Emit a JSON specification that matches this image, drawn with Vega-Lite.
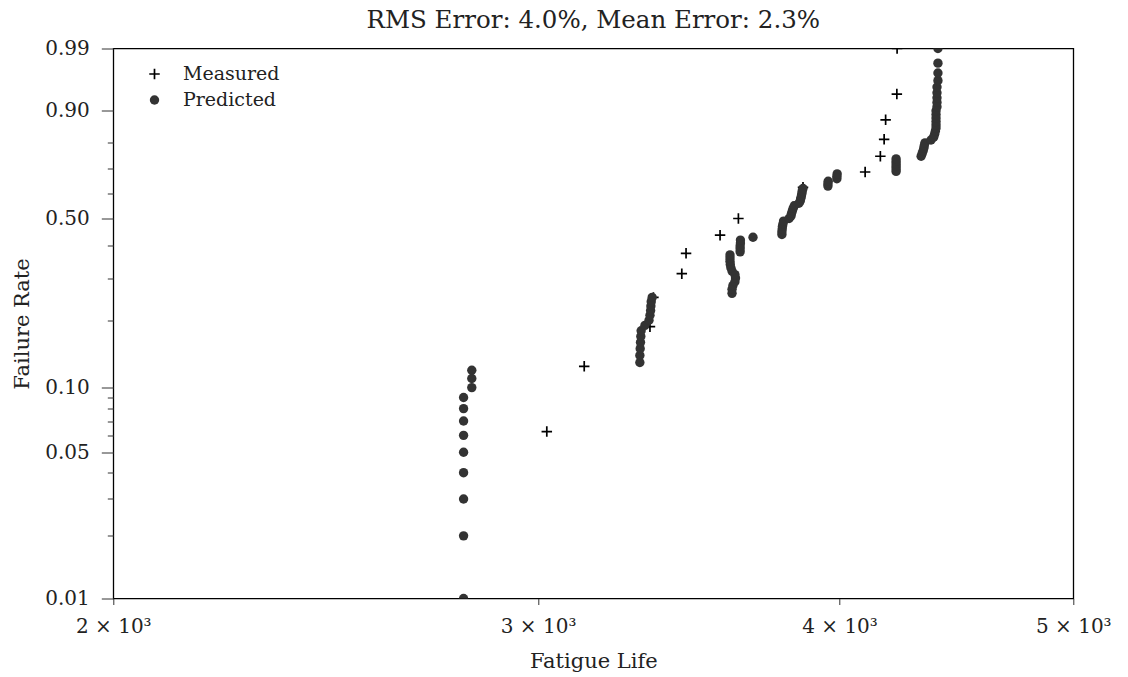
{
  "$schema": "https://vega.github.io/schema/vega-lite/v6.json",
  "width": 960,
  "height": 550,
  "autosize": {"type": "none"},
  "padding": {"left": 113.3, "top": 48.5, "right": 54.7, "bottom": 78.5},
  "background": "white",
  "title": {
    "text": "RMS Error: 4.0%, Mean Error: 2.3%",
    "font": "DejaVu Serif",
    "fontSize": 24.5,
    "fontWeight": "normal",
    "color": "#222222",
    "anchor": "middle",
    "baseline": "alphabetic",
    "offset": -14
  },
  "data": {
    "values": [
      {"series": "Measured", "life": 3025, "rate": 0.0625},
      {"series": "Measured", "life": 3135, "rate": 0.125},
      {"series": "Measured", "life": 3338, "rate": 0.1875},
      {"series": "Measured", "life": 3349, "rate": 0.25},
      {"series": "Measured", "life": 3441, "rate": 0.3125},
      {"series": "Measured", "life": 3455, "rate": 0.375},
      {"series": "Measured", "life": 3569, "rate": 0.4375},
      {"series": "Measured", "life": 3632, "rate": 0.5},
      {"series": "Measured", "life": 3841, "rate": 0.5625},
      {"series": "Measured", "life": 3863, "rate": 0.625},
      {"series": "Measured", "life": 4099, "rate": 0.6875},
      {"series": "Measured", "life": 4159, "rate": 0.75},
      {"series": "Measured", "life": 4174, "rate": 0.8125},
      {"series": "Measured", "life": 4180, "rate": 0.875},
      {"series": "Measured", "life": 4225, "rate": 0.9375},
      {"series": "Measured", "life": 4226, "rate": 0.99},
      {"series": "Predicted", "life": 2794, "rate": 0.01},
      {"series": "Predicted", "life": 2794, "rate": 0.02},
      {"series": "Predicted", "life": 2794, "rate": 0.03},
      {"series": "Predicted", "life": 2794, "rate": 0.04},
      {"series": "Predicted", "life": 2794, "rate": 0.05},
      {"series": "Predicted", "life": 2794, "rate": 0.06},
      {"series": "Predicted", "life": 2794, "rate": 0.07},
      {"series": "Predicted", "life": 2794, "rate": 0.08},
      {"series": "Predicted", "life": 2794, "rate": 0.09},
      {"series": "Predicted", "life": 2816, "rate": 0.10},
      {"series": "Predicted", "life": 2816, "rate": 0.11},
      {"series": "Predicted", "life": 2816, "rate": 0.12},
      {"series": "Predicted", "life": 3306, "rate": 0.13},
      {"series": "Predicted", "life": 3306, "rate": 0.14},
      {"series": "Predicted", "life": 3307, "rate": 0.15},
      {"series": "Predicted", "life": 3308, "rate": 0.16},
      {"series": "Predicted", "life": 3309, "rate": 0.17},
      {"series": "Predicted", "life": 3310, "rate": 0.18},
      {"series": "Predicted", "life": 3322, "rate": 0.19},
      {"series": "Predicted", "life": 3335, "rate": 0.20},
      {"series": "Predicted", "life": 3338, "rate": 0.21},
      {"series": "Predicted", "life": 3340, "rate": 0.22},
      {"series": "Predicted", "life": 3341, "rate": 0.23},
      {"series": "Predicted", "life": 3342, "rate": 0.24},
      {"series": "Predicted", "life": 3345, "rate": 0.25},
      {"series": "Predicted", "life": 3610, "rate": 0.26},
      {"series": "Predicted", "life": 3610, "rate": 0.27},
      {"series": "Predicted", "life": 3613, "rate": 0.28},
      {"series": "Predicted", "life": 3620, "rate": 0.29},
      {"series": "Predicted", "life": 3622, "rate": 0.30},
      {"series": "Predicted", "life": 3620, "rate": 0.31},
      {"series": "Predicted", "life": 3610, "rate": 0.32},
      {"series": "Predicted", "life": 3606, "rate": 0.33},
      {"series": "Predicted", "life": 3604, "rate": 0.34},
      {"series": "Predicted", "life": 3603, "rate": 0.35},
      {"series": "Predicted", "life": 3603, "rate": 0.36},
      {"series": "Predicted", "life": 3603, "rate": 0.37},
      {"series": "Predicted", "life": 3638, "rate": 0.38},
      {"series": "Predicted", "life": 3638, "rate": 0.39},
      {"series": "Predicted", "life": 3638, "rate": 0.40},
      {"series": "Predicted", "life": 3639, "rate": 0.41},
      {"series": "Predicted", "life": 3639, "rate": 0.42},
      {"series": "Predicted", "life": 3683, "rate": 0.43},
      {"series": "Predicted", "life": 3786, "rate": 0.44},
      {"series": "Predicted", "life": 3786, "rate": 0.45},
      {"series": "Predicted", "life": 3787, "rate": 0.46},
      {"series": "Predicted", "life": 3788, "rate": 0.47},
      {"series": "Predicted", "life": 3790, "rate": 0.48},
      {"series": "Predicted", "life": 3792, "rate": 0.49},
      {"series": "Predicted", "life": 3812, "rate": 0.50},
      {"series": "Predicted", "life": 3819, "rate": 0.51},
      {"series": "Predicted", "life": 3821, "rate": 0.52},
      {"series": "Predicted", "life": 3824, "rate": 0.53},
      {"series": "Predicted", "life": 3827, "rate": 0.54},
      {"series": "Predicted", "life": 3831, "rate": 0.55},
      {"series": "Predicted", "life": 3848, "rate": 0.56},
      {"series": "Predicted", "life": 3853, "rate": 0.57},
      {"series": "Predicted", "life": 3855, "rate": 0.58},
      {"series": "Predicted", "life": 3857, "rate": 0.59},
      {"series": "Predicted", "life": 3859, "rate": 0.60},
      {"series": "Predicted", "life": 3860, "rate": 0.61},
      {"series": "Predicted", "life": 3863, "rate": 0.62},
      {"series": "Predicted", "life": 3956, "rate": 0.63},
      {"series": "Predicted", "life": 3956, "rate": 0.64},
      {"series": "Predicted", "life": 3957, "rate": 0.65},
      {"series": "Predicted", "life": 3990, "rate": 0.66},
      {"series": "Predicted", "life": 3990, "rate": 0.67},
      {"series": "Predicted", "life": 3991, "rate": 0.68},
      {"series": "Predicted", "life": 4222, "rate": 0.69},
      {"series": "Predicted", "life": 4222, "rate": 0.70},
      {"series": "Predicted", "life": 4222, "rate": 0.71},
      {"series": "Predicted", "life": 4222, "rate": 0.72},
      {"series": "Predicted", "life": 4222, "rate": 0.73},
      {"series": "Predicted", "life": 4222, "rate": 0.74},
      {"series": "Predicted", "life": 4324, "rate": 0.75},
      {"series": "Predicted", "life": 4328, "rate": 0.76},
      {"series": "Predicted", "life": 4332, "rate": 0.77},
      {"series": "Predicted", "life": 4335, "rate": 0.78},
      {"series": "Predicted", "life": 4337, "rate": 0.79},
      {"series": "Predicted", "life": 4340, "rate": 0.80},
      {"series": "Predicted", "life": 4365, "rate": 0.81},
      {"series": "Predicted", "life": 4376, "rate": 0.82},
      {"series": "Predicted", "life": 4380, "rate": 0.83},
      {"series": "Predicted", "life": 4383, "rate": 0.84},
      {"series": "Predicted", "life": 4386, "rate": 0.85},
      {"series": "Predicted", "life": 4386, "rate": 0.86},
      {"series": "Predicted", "life": 4386, "rate": 0.87},
      {"series": "Predicted", "life": 4386, "rate": 0.88},
      {"series": "Predicted", "life": 4386, "rate": 0.89},
      {"series": "Predicted", "life": 4386, "rate": 0.90},
      {"series": "Predicted", "life": 4390, "rate": 0.91},
      {"series": "Predicted", "life": 4390, "rate": 0.92},
      {"series": "Predicted", "life": 4390, "rate": 0.93},
      {"series": "Predicted", "life": 4390, "rate": 0.94},
      {"series": "Predicted", "life": 4390, "rate": 0.95},
      {"series": "Predicted", "life": 4394, "rate": 0.96},
      {"series": "Predicted", "life": 4394, "rate": 0.97},
      {"series": "Predicted", "life": 4394, "rate": 0.98},
      {"series": "Predicted", "life": 4394, "rate": 0.99}
    ]
  },
  "transform": [
    {"calculate": "log(-log(1 - datum.rate))", "as": "weibull"}
  ],
  "mark": {"type": "point", "clip": true, "opacity": 1, "strokeWidth": 1.7},
  "encoding": {
    "x": {
      "field": "life",
      "type": "quantitative",
      "scale": {"type": "log", "domain": [2000, 5000], "nice": false},
      "axis": {
        "values": [2000, 3000, 4000, 5000],
        "labelExpr": "(datum.value / 1000) + ' × 10³'",
        "tickSize": 6,
        "labelPadding": 12,
        "labelFlush": false,
        "labelOverlap": false,
        "title": "Fatigue Life",
        "titleY": 68.5,
        "titleBaseline": "alphabetic"
      }
    },
    "y": {
      "field": "weibull",
      "type": "quantitative",
      "scale": {"domain": [-4.600153, 1.52718], "nice": false, "zero": false},
      "axis": {
        "values": [-4.600153, -3.901939, -3.491367, -3.198534, -2.970195, -2.782633, -2.623194, -2.484328, -2.361161, -2.250367, -1.49994, -1.03093, -0.671727, -0.366513, -0.087422, 0.185626, 0.475885, 0.834032, 1.52718],
        "labelExpr": "indexof([1, 5, 10, 50, 90, 99], round((1 - exp(-exp(datum.value))) * 100)) >= 0 ? format(1 - exp(-exp(datum.value)), '.2f') : ''",
        "tickSize": {
          "condition": {"test": "indexof([1, 5, 10, 50, 90, 99], round((1 - exp(-exp(datum.value))) * 100)) >= 0", "value": 12},
          "value": 6
        },
        "labelPadding": 12,
        "labelOverlap": false,
        "title": "Failure Rate",
        "titleX": -85.3,
        "titleBaseline": "alphabetic"
      }
    },
    "shape": {
      "field": "series",
      "type": "nominal",
      "scale": {"domain": ["Measured", "Predicted"], "range": ["M-1,0H1M0,-1V1", "circle"]},
      "legend": {"title": null}
    },
    "fill": {
      "field": "series",
      "type": "nominal",
      "scale": {"domain": ["Measured", "Predicted"], "range": ["transparent", "#333333"]},
      "legend": {"title": null}
    },
    "stroke": {
      "field": "series",
      "type": "nominal",
      "scale": {"domain": ["Measured", "Predicted"], "range": ["#000000", "transparent"]},
      "legend": {"title": null}
    },
    "size": {
      "field": "series",
      "type": "nominal",
      "scale": {"domain": ["Measured", "Predicted"], "range": [110, 88]},
      "legend": {"title": null}
    }
  },
  "config": {
    "view": {"stroke": "#000000", "strokeWidth": 1.3},
    "axis": {
      "grid": false,
      "domain": false,
      "ticks": true,
      "tickColor": "#333333",
      "tickWidth": 1,
      "labelFont": "DejaVu Serif",
      "labelFontSize": 20,
      "labelColor": "#222222",
      "titleFont": "DejaVu Serif",
      "titleFontSize": 21,
      "titleFontWeight": "normal",
      "titleColor": "#222222"
    },
    "legend": {
      "orient": "none",
      "legendX": 31.7,
      "legendY": 16,
      "padding": 0,
      "labelOffset": 19,
      "rowPadding": 6,
      "labelFont": "DejaVu Serif",
      "labelFontSize": 19,
      "labelColor": "#222222",
      "symbolStrokeWidth": 1.7
    }
  }
}
